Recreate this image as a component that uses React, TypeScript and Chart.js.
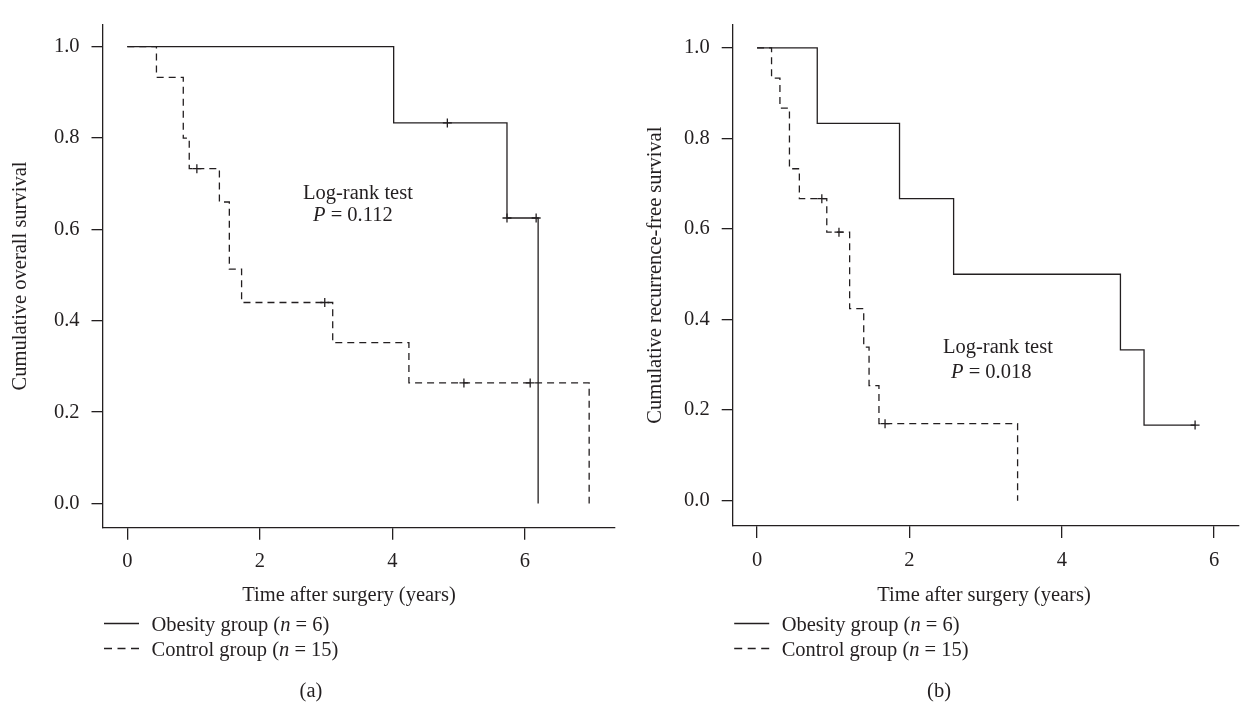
import React, { useEffect, useRef } from "react";
import { Chart, registerables } from "chart.js";

Chart.register(...registerables);

// ---------- Data: panel (a) cumulative overall survival ----------
const A_OBESITY_T = [0, 4.02, 5.73, 6.2];
const A_OBESITY_S = [1, 0.833, 0.625, 0];
const A_OBESITY_CENS_T = [4.83, 5.73, 6.17];
const A_OBESITY_CENS_S = [0.833, 0.625, 0.625];
const A_CONTROL_T = [0, 0.44, 0.845, 0.935, 1.39, 1.54, 1.725, 3.1, 4.25, 6.97];
const A_CONTROL_S = [1, 0.933, 0.8, 0.733, 0.66, 0.513, 0.44, 0.352, 0.264, 0];
const A_CONTROL_CENS_T = [1.05, 2.98, 5.08, 6.08];
const A_CONTROL_CENS_S = [0.733, 0.44, 0.264, 0.264];

// ---------- Data: panel (b) cumulative recurrence-free survival ----------
const B_OBESITY_T = [0, 0.79, 1.87, 2.58, 4.77, 5.08, 5.75];
const B_OBESITY_S = [1, 0.833, 0.667, 0.5, 0.333, 0.167, 0.167];
const B_OBESITY_CENS_T = [5.75];
const B_OBESITY_CENS_S = [0.167];
const B_CONTROL_T = [0, 0.19, 0.3, 0.425, 0.555, 0.915, 1.215, 1.4, 1.47, 1.6, 3.42];
const B_CONTROL_S = [1, 0.933, 0.867, 0.733, 0.667, 0.593, 0.424, 0.339, 0.254, 0.17, 0];
const B_CONTROL_CENS_T = [0.85, 1.075, 1.68];
const B_CONTROL_CENS_S = [0.667, 0.593, 0.17];

// ---------- Tick labels / texts ----------
const X_TICKS = [0, 2, 4, 6];
const Y_TICKS = [0, 0.2, 0.4, 0.6, 0.8, 1.0];
const X_TITLE = "Time after surgery (years)";
const A_Y_TITLE = "Cumulative overall survival";
const B_Y_TITLE = "Cumulative recurrence-free survival";
const LEGEND_OBESITY = "Obesity group";
const LEGEND_OBESITY_N = "6";
const LEGEND_CONTROL = "Control group";
const LEGEND_CONTROL_N = "15";
const TEST_NAME = "Log-rank test";
const A_P_VALUE = "0.112";
const B_P_VALUE = "0.018";

const INK = "#231f20";
const FONT = "'Liberation Serif', 'Times New Roman', serif";
const FS = 20.5;

type Seg = [string, boolean];

function drawRich(ctx: CanvasRenderingContext2D, segs: Seg[], x: number, y: number, align: "left" | "center") {
  const fonts = segs.map(([, it]) => `${it ? "italic " : ""}${FS}px ${FONT}`);
  const widths = segs.map(([t], i) => {
    ctx.font = fonts[i];
    return ctx.measureText(t).width;
  });
  const total = widths.reduce((a, b) => a + b, 0);
  let cx = align === "center" ? x - total / 2 : x;
  ctx.textAlign = "left";
  ctx.textBaseline = "alphabetic";
  ctx.fillStyle = INK;
  segs.forEach(([t], i) => {
    ctx.font = fonts[i];
    ctx.fillText(t, cx, y);
    cx += widths[i];
  });
}

const zip = (xs: number[], ys: number[]) => xs.map((x, i) => ({ x, y: ys[i] }));

interface PanelCfg {
  left: number;
  area: { left: number; top: number; right: number; bottom: number };
  xRange: [number, number];
  yRange: [number, number];
  yTitle: string;
  yTitlePad: number;
  obesity: { t: number[]; s: number[]; ct: number[]; cs: number[] };
  control: { t: number[]; s: number[]; ct: number[]; cs: number[] };
  pValue: string;
  testPos: { x: number; y: number; px: number; py: number };
  xTitleX: number;
  caption: string;
  captionX: number;
}

const W = 622;
const H = 704;

const PANELS: PanelCfg[] = [
  {
    left: 0,
    area: { left: 102.5, top: 12, right: 615, bottom: 527.7 },
    xRange: [-0.374, 7.36],
    yRange: [-0.053, 1.049],
    yTitle: A_Y_TITLE,
    yTitlePad: 8,
    obesity: { t: A_OBESITY_T, s: A_OBESITY_S, ct: A_OBESITY_CENS_T, cs: A_OBESITY_CENS_S },
    control: { t: A_CONTROL_T, s: A_CONTROL_S, ct: A_CONTROL_CENS_T, cs: A_CONTROL_CENS_S },
    pValue: A_P_VALUE,
    testPos: { x: 303, y: 199, px: 313, py: 221 },
    xTitleX: 349,
    caption: "(a)",
    captionX: 311,
  },
  {
    left: 622,
    area: { left: 110.7, top: 10, right: 621, bottom: 526 },
    xRange: [-0.32, 6.316],
    yRange: [-0.056, 1.052],
    yTitle: B_Y_TITLE,
    yTitlePad: 21,
    obesity: { t: B_OBESITY_T, s: B_OBESITY_S, ct: B_OBESITY_CENS_T, cs: B_OBESITY_CENS_S },
    control: { t: B_CONTROL_T, s: B_CONTROL_S, ct: B_CONTROL_CENS_T, cs: B_CONTROL_CENS_S },
    pValue: B_P_VALUE,
    testPos: { x: 943 - 622, y: 353, px: 951 - 622, py: 378 },
    xTitleX: 984 - 622,
    caption: "(b)",
    captionX: 317,
  },
];

function Panel({ cfg }: { cfg: PanelCfg }) {
  const ref = useRef<HTMLCanvasElement>(null);
  useEffect(() => {
    const canvas = ref.current!;
    const a = cfg.area;
    const dash = [7, 5];
    const extras = {
      id: "extras",
      afterDraw(chart: any) {
        const ctx: CanvasRenderingContext2D = chart.ctx;
        ctx.save();
        drawRich(ctx, [[TEST_NAME, false]], cfg.testPos.x, cfg.testPos.y, "left");
        drawRich(ctx, [["P", true], [" = " + cfg.pValue, false]], cfg.testPos.px, cfg.testPos.py, "left");
        drawRich(ctx, [[X_TITLE, false]], cfg.xTitleX, 601, "center");
        const lx0 = a.left + 1.5;
        const lx1 = a.left + 36.5;
        const tx = a.left + 49;
        ctx.strokeStyle = INK;
        ctx.lineWidth = 1.3;
        ctx.setLineDash([]);
        ctx.beginPath();
        ctx.moveTo(lx0, 623.5);
        ctx.lineTo(lx1, 623.5);
        ctx.stroke();
        ctx.setLineDash([8, 5.5]);
        ctx.beginPath();
        ctx.moveTo(lx0, 648.5);
        ctx.lineTo(lx1, 648.5);
        ctx.stroke();
        ctx.setLineDash([]);
        drawRich(ctx, [[LEGEND_OBESITY + " (", false], ["n", true], [" = " + LEGEND_OBESITY_N + ")", false]], tx, 631, "left");
        drawRich(ctx, [[LEGEND_CONTROL + " (", false], ["n", true], [" = " + LEGEND_CONTROL_N + ")", false]], tx, 656, "left");
        drawRich(ctx, [[cfg.caption, false]], cfg.captionX, 697, "center");
        ctx.restore();
      },
    };

    const lineDs = (t: number[], s: number[], dashed: boolean) => ({
      type: "scatter" as const,
      data: zip(t, s),
      showLine: true,
      stepped: true,
      borderColor: INK,
      borderWidth: 1.3,
      borderDash: dashed ? dash : [],
      pointRadius: 0,
      fill: false,
    });
    const censDs = (t: number[], s: number[]) => ({
      type: "scatter" as const,
      data: zip(t, s),
      showLine: false,
      pointStyle: "cross",
      pointRadius: 4.5,
      pointBorderWidth: 1.3,
      pointBorderColor: INK,
      borderColor: INK,
      backgroundColor: INK,
    });

    const tickFont = { family: FONT, size: FS };
    const chart = new Chart(canvas, {
      type: "scatter",
      data: {
        datasets: [
          lineDs(cfg.obesity.t, cfg.obesity.s, false),
          censDs(cfg.obesity.ct, cfg.obesity.cs),
          lineDs(cfg.control.t, cfg.control.s, true),
          censDs(cfg.control.ct, cfg.control.cs),
        ] as any,
      },
      options: {
        responsive: false,
        animation: false,
        devicePixelRatio: 1,
        layout: { padding: { left: 0, top: a.top, right: W - a.right, bottom: 0 } },
        plugins: { legend: { display: false }, tooltip: { enabled: false } },
        scales: {
          x: {
            type: "linear",
            min: cfg.xRange[0],
            max: cfg.xRange[1],
            afterFit: (s: any) => {
              s.height = H - a.bottom;
            },
            afterBuildTicks: (s: any) => {
              s.ticks = X_TICKS.map((v) => ({ value: v }));
            },
            ticks: {
              color: INK,
              font: tickFont,
              padding: 10,
              maxRotation: 0,
              autoSkip: false,
              callback: (v: any) => String(v),
            },
            grid: { drawOnChartArea: false, drawTicks: true, tickLength: 12, color: INK, lineWidth: 1.3 },
            border: { display: true, color: INK, width: 1.3 },
          },
          y: {
            type: "linear",
            min: cfg.yRange[0],
            max: cfg.yRange[1],
            afterFit: (s: any) => {
              s.width = a.left;
            },
            afterBuildTicks: (s: any) => {
              s.ticks = Y_TICKS.map((v) => ({ value: v }));
            },
            ticks: {
              color: INK,
              font: tickFont,
              padding: 12,
              autoSkip: false,
              callback: (v: any) => Number(v).toFixed(1),
            },
            title: {
              display: true,
              text: cfg.yTitle,
              color: INK,
              font: { family: FONT, size: FS },
              padding: { top: cfg.yTitlePad, bottom: 0 },
            },
            grid: { drawOnChartArea: false, drawTicks: true, tickLength: 11, color: INK, lineWidth: 1.3 },
            border: { display: true, color: INK, width: 1.3 },
          },
        },
      } as any,
      plugins: [extras],
    });
    return () => chart.destroy();
  }, [cfg]);
  return (
    <canvas
      ref={ref}
      width={W}
      height={H}
      style={{ position: "absolute", left: cfg.left, top: 0, width: W, height: H }}
    />
  );
}

export default function App() {
  return (
    <div style={{ position: "absolute", left: 0, top: 0, width: 1244, height: 704, background: "#fff", overflow: "hidden" }}>
      {PANELS.map((p, i) => (
        <Panel key={i} cfg={p} />
      ))}
    </div>
  );
}
